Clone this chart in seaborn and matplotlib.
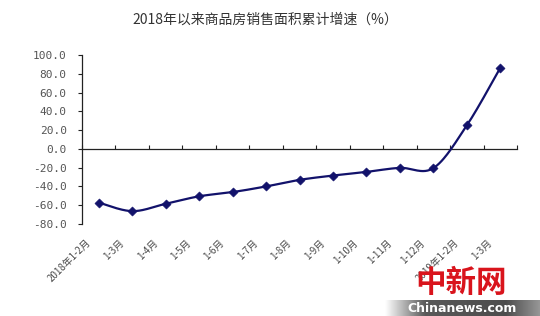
import numpy as np
import pandas as pd
import matplotlib
matplotlib.use("Agg")
import matplotlib.pyplot as plt
import seaborn as sns
from matplotlib.transforms import blended_transform_factory

# ---- data ----
categories = ["2018年1-2月", "1-3月", "1-4月", "1-5月", "1-6月", "1-7月", "1-8月",
              "1-9月", "1-10月", "1-11月", "1-12月", "2019年1-2月", "1-3月"]
values = [-57.2, -66.3, -58.5, -50.5, -46.0, -40.0, -33.0, -28.4, -24.5, -20.2, -20.5, 25.0, 86.3]
yticks = [-80, -60, -40, -20, 0, 20, 40, 60, 80, 100]
title = "2018年以来商品房销售面积累计增速（%）"

df = pd.DataFrame({"x": np.arange(len(categories)), "v": values})

sns.set_theme(style="white")
plt.rcParams["font.family"] = ["Noto Sans CJK SC", "DejaVu Sans"]

fig = plt.figure(figsize=(5.4, 3.16), dpi=100)
ax = fig.add_axes([82/540, 1-224/316, (517-82)/540, (224-55)/316])

navy = "#12126b"

# smoothed line (Bezier through the data points, like Excel's smooth line)
x = df["x"].to_numpy(float)
y = df["v"].to_numpy(float)
px = np.concatenate([[x[0]], x, [x[-1]]])
py = np.concatenate([[y[0]], y, [y[-1]]])
sx, sy = [], []
t = np.linspace(0, 1, 30)
for i in range(1, len(px) - 2):
    p0, p1, p2, p3 = (px[i-1], py[i-1]), (px[i], py[i]), (px[i+1], py[i+1]), (px[i+2], py[i+2])
    c1 = (p1[0] + (p2[0]-p0[0])/6, p1[1] + (p2[1]-p0[1])/6)
    c2 = (p2[0] - (p3[0]-p1[0])/6, p2[1] - (p3[1]-p1[1])/6)
    bx = (1-t)**3*p1[0] + 3*(1-t)**2*t*c1[0] + 3*(1-t)*t**2*c2[0] + t**3*p2[0]
    by = (1-t)**3*p1[1] + 3*(1-t)**2*t*c1[1] + 3*(1-t)*t**2*c2[1] + t**3*p2[1]
    sx.extend(bx); sy.extend(by)
ax.plot(sx, sy, color=navy, lw=1.6, zorder=3)
sns.scatterplot(data=df, x="x", y="v", marker="D", s=22, color=navy,
                edgecolor=navy, ax=ax, zorder=4, legend=False)

ax.set_xlim(-0.5, len(categories) - 0.5)
ax.set_ylim(-80, 100)
ax.set_xlabel("")
ax.set_ylabel("")

for s in ["top", "right"]:
    ax.spines[s].set_visible(False)
ax.spines["bottom"].set_position(("data", 0))
ax.spines["bottom"].set_color("#222222")
ax.spines["left"].set_color("#222222")
ax.spines["bottom"].set_linewidth(0.9)
ax.spines["left"].set_linewidth(0.9)

ax.set_yticks(yticks)
ax.set_yticklabels([f"{v:.1f}" for v in yticks], family="DejaVu Sans Mono",
                   fontsize=8, color="#555555")
ax.tick_params(axis="y", direction="out", length=3, width=0.8, color="#222222",
               pad=8, left=True)
ax.set_xticks(np.arange(-0.5, len(categories), 1))
ax.set_xticklabels([])
ax.tick_params(axis="x", direction="in", length=3, width=0.8, color="#222222", bottom=True)

tr = blended_transform_factory(ax.transData, ax.transAxes)
for i, lab in enumerate(categories):
    ax.text(i - 0.4, -0.08, lab, transform=tr, rotation=45, ha="right", va="top",
            rotation_mode="anchor", fontsize=7, color="#4a4a4a",
            family=["Noto Sans CJK SC", "DejaVu Sans"])

fig.text(265/540, 1-20/316, title, ha="center", va="center", fontsize=10,
         color="#333333", family=["Noto Sans CJK SC", "DejaVu Sans"])

# watermark
wax = fig.add_axes([385/540, 0, 155/540, 16/316], zorder=-1)
xs = np.linspace(385, 540, 310)
shade = np.interp(xs, [385, 425, 505, 540], [1.0, 0.35, 0.3, 0.6])
wax.imshow(np.vstack([shade] * 2), cmap="gray", vmin=0, vmax=1,
           aspect="auto", extent=[0, 1, 0, 1])
wax.set_axis_off()
fig.text(462/540, 1-308/316, "Chinanews.com", ha="center", va="center", fontsize=9,
         weight="bold", color="white", family="DejaVu Sans Condensed", zorder=10)
fig.text(461/540, 1-283/316, "中新网", ha="center", va="center", fontsize=22,
         weight="bold", color="#d9141c", family=["Noto Sans CJK SC", "DejaVu Sans"],
         zorder=10)

fig.savefig("out.png", dpi=100, facecolor="white")
